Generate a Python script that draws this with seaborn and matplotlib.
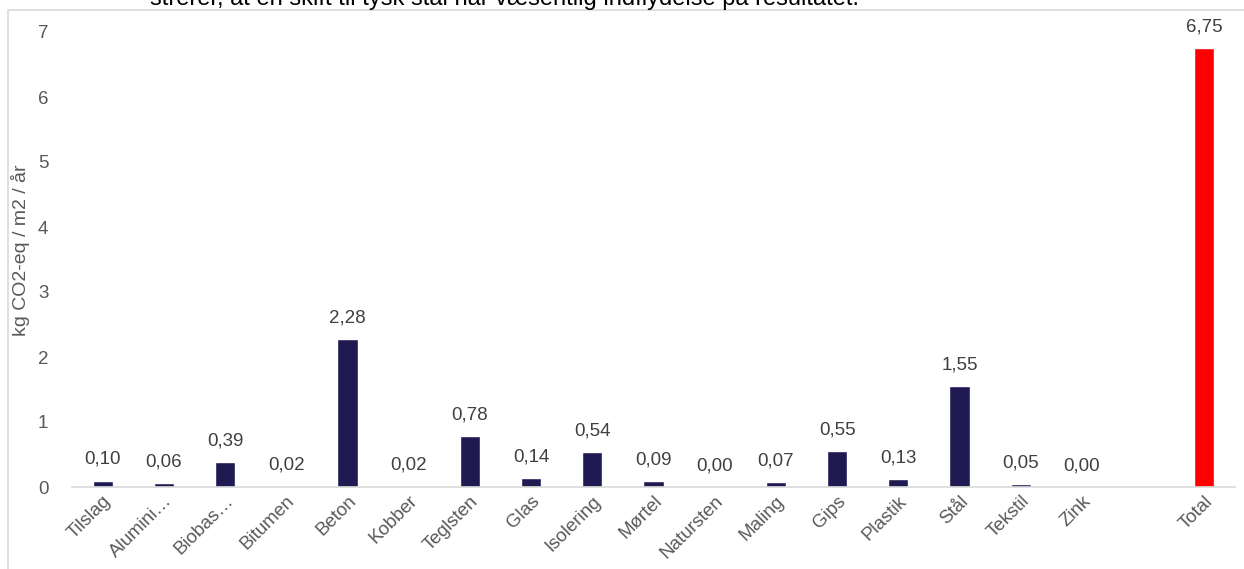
import matplotlib
matplotlib.use("Agg")
import matplotlib.pyplot as plt
import seaborn as sns
import pandas as pd
from matplotlib.patches import Rectangle

categories = ["Tilslag", "Alumini…", "Biobas…", "Bitumen", "Beton", "Kobber", "Teglsten",
              "Glas", "Isolering", "Mørtel", "Natursten", "Maling", "Gips", "Plastik",
              "Stål", "Tekstil", "Zink", " ", "Total"]
values = [0.10, 0.06, 0.39, 0.02, 2.28, 0.02, 0.78, 0.14, 0.54, 0.09, 0.00, 0.07,
          0.55, 0.13, 1.55, 0.05, 0.00, None, 6.75]
y_ticks = [0, 1, 2, 3, 4, 5, 6, 7]
y_label = "kg CO2-eq / m2 / år"
top_text = "strerer, at en skift til tysk stål har væsentlig indflydelse på resultatet."

sns.set_theme(style="white")
plt.rcParams["font.family"] = ["Liberation Sans", "DejaVu Sans"]

FS = 13.5
df = pd.DataFrame({"cat": categories, "val": [v if v is not None else 0 for v in values]})
colors = {c: ("#ff0000" if c == "Total" else "#201a52") for c in categories}

fig = plt.figure(figsize=(12.44, 5.69), dpi=100)
ax = fig.add_axes([72 / 1244, 1 - 487 / 569, (1235 - 72) / 1244, (487 - 32) / 569])

sns.barplot(data=df, x="cat", y="val", hue="cat", palette=colors, order=categories,
            width=0.33, legend=False, ax=ax, saturation=1)

ax.set_ylim(0, 7)
ax.set_xlim(-0.5, len(categories) - 0.5)
ax.set_yticks(y_ticks)
ax.set_yticklabels([str(t) for t in y_ticks], fontsize=FS, color="#595959")
ax.tick_params(axis="y", length=0, pad=17)
ax.tick_params(axis="x", length=0, pad=4)
ax.set_xticks(range(len(categories)))
ax.set_xticklabels(categories, rotation=45, ha="right", rotation_mode="anchor",
                   fontsize=FS, color="#595959")
ax.set_xlabel("")
ax.set_ylabel(y_label, fontsize=14, color="#595959")
ax.yaxis.set_label_coords((30 - 72) / 1163, (487 - 250) / 455)

for s in ["top", "right", "left"]:
    ax.spines[s].set_visible(False)
ax.spines["bottom"].set_color("#d9d9d9")
ax.spines["bottom"].set_linewidth(1.2)

for i, v in enumerate(values):
    if v is None:
        continue
    ax.annotate(f"{v:.2f}".replace(".", ","), (i, v), xytext=(0, 9),
                textcoords="offset points", ha="center", va="bottom",
                fontsize=FS, color="#404040", annotation_clip=False)

fig.patches.append(Rectangle((8 / 1244, -0.1), 1.2, 1 - 10 / 569 + 0.1,
                             transform=fig.transFigure, fill=False,
                             edgecolor="#d9d9d9", linewidth=1.2))
fig.text(150 / 1244, 1 + 2 / 569, top_text, fontsize=17, color="#000000",
         ha="left", va="center")

fig.savefig("out.png", dpi=100)
